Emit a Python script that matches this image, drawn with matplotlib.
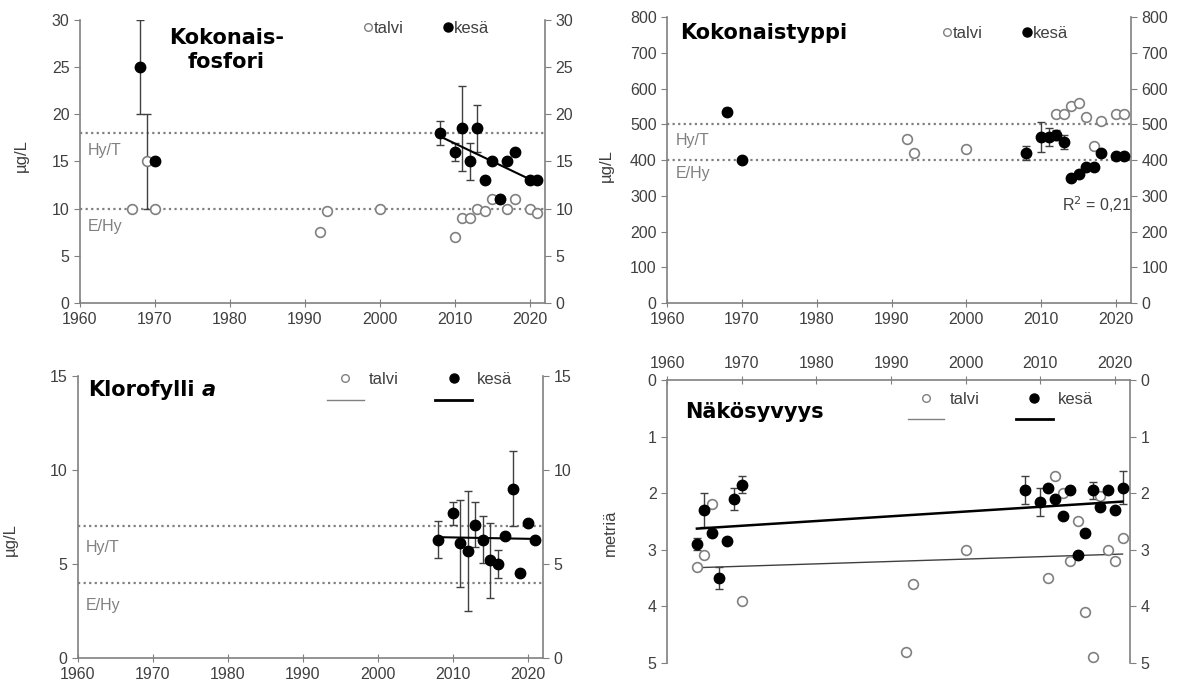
import matplotlib
matplotlib.use("Agg")
import matplotlib.pyplot as plt
from matplotlib.lines import Line2D
import numpy as np

plt.rcParams['font.family'] = ['Liberation Sans', 'DejaVu Sans']

# --- Kokonaisfosfori (µg/L)
p_talvi_year = [1967, 1969, 1970, 1992, 1993, 2000, 2010, 2011, 2012, 2013, 2014, 2015, 2016, 2017, 2018, 2020, 2021]
p_talvi = [10, 15, 10, 7.5, 9.8, 10, 7, 9, 9, 10, 9.7, 11, 11, 10, 11, 10, 9.5]
p_talvi_err = [0, 5, 0, 0, 0, 0, 0, 0, 0, 0, 0, 0, 0, 0, 0, 0, 0]
p_kesa_year = [1968, 1970, 2008, 2010, 2011, 2012, 2013, 2014, 2015, 2016, 2017, 2018, 2020, 2021]
p_kesa = [25, 15, 18, 16, 18.5, 15, 18.5, 13, 15, 11, 15, 16, 13, 13]
p_kesa_err = [5, 0, 1.3, 1, 4.5, 2, 2.5, 0, 0, 0, 0, 0, 0, 0]

# --- Kokonaistyppi (µg/L)
n_talvi_year = [1992, 1993, 2000, 2012, 2013, 2014, 2015, 2016, 2017, 2018, 2020, 2021]
n_talvi = [460, 420, 430, 530, 530, 550, 560, 520, 440, 510, 530, 530]
n_kesa_year = [1968, 1970, 2008, 2010, 2011, 2012, 2013, 2014, 2015, 2016, 2017, 2018, 2020, 2021]
n_kesa = [535, 400, 420, 465, 465, 470, 450, 350, 360, 380, 380, 420, 410, 410]
n_kesa_err = [10, 0, 20, 42, 25, 15, 20, 0, 0, 0, 0, 0, 0, 0]

# --- Klorofylli a (µg/L)
c_kesa_year = [2008, 2010, 2011, 2012, 2013, 2014, 2015, 2016, 2017, 2018, 2019, 2020, 2021]
c_kesa = [6.3, 7.7, 6.1, 5.7, 7.1, 6.3, 5.2, 5.0, 6.5, 9.0, 4.5, 7.2, 6.3]
c_kesa_err = [1.0, 0.6, 2.3, 3.2, 1.2, 1.25, 2.0, 0.75, 0, 2.0, 0, 0, 0]

# --- Näkösyvyys (m)
s_talvi_year = [1964, 1965, 1966, 1970, 1992, 1993, 2000, 2011, 2012, 2013, 2014, 2015, 2016, 2017, 2018, 2019, 2020, 2021]
s_talvi = [3.3, 3.1, 2.2, 3.9, 4.8, 3.6, 3.0, 3.5, 1.7, 2.0, 3.2, 2.5, 4.1, 4.9, 2.05, 3.0, 3.2, 2.8]
s_kesa_year = [1964, 1965, 1966, 1967, 1968, 1969, 1970, 2008, 2010, 2011, 2012, 2013, 2014, 2015, 2016, 2017, 2018, 2019, 2020, 2021]
s_kesa = [2.9, 2.3, 2.7, 3.5, 2.85, 2.1, 1.85, 1.95, 2.15, 1.9, 2.1, 2.4, 1.95, 3.1, 2.7, 1.95, 2.25, 1.95, 2.3, 1.9]
s_kesa_err = [0.1, 0.3, 0, 0.2, 0, 0.2, 0.15, 0.25, 0.25, 0, 0, 0, 0, 0, 0, 0.15, 0, 0, 0, 0.3]

year_ticks = [1960, 1970, 1980, 1990, 2000, 2010, 2020]

GRAY = '#808080'
DARK = '#404040'
MS = 7.5
TFS = 11.5   # tick font size
TITLE = dict(fontsize=15, fontweight='bold', family='DejaVu Sans')


def style(ax, ymax, ystep, top_axis=False):
    ax.set_xlim(1960, 2022)
    ax.set_xticks(year_ticks)
    ax.set_yticks(np.arange(0, ymax + ystep / 2, ystep))
    for s in ['left', 'right', 'top', 'bottom']:
        ax.spines[s].set_color(GRAY)
        ax.spines[s].set_linewidth(1.2)
    if top_axis:
        ax.spines['bottom'].set_visible(False)
        ax.xaxis.tick_top()
    else:
        ax.spines['top'].set_visible(False)
    ax.tick_params(axis='x', direction='inout', length=6, color=GRAY, labelcolor=DARK, labelsize=TFS)
    ax.tick_params(axis='y', direction='out', length=4, color=GRAY, labelcolor=DARK,
                   labelsize=TFS, right=True, labelright=True)


def draw_points(ax, x, y, err, filled):
    x = np.array(x); y = np.array(y); err = np.array(err)
    m = err > 0
    if m.any():
        ax.errorbar(x[m], y[m], yerr=err[m], fmt='none', ecolor=DARK, elinewidth=1,
                    capsize=3, capthick=1, zorder=2)
    if filled:
        ax.plot(x, y, 'o', ms=MS, mfc='black', mec='black', zorder=4)
    else:
        ax.plot(x, y, 'o', ms=MS - 0.5, mfc='white', mec=GRAY, mew=1.2, zorder=3)


def trend(ax, x, y, **kw):
    x = np.array(x, float); y = np.array(y, float)
    k, b = np.polyfit(x, y, 1)
    xx = np.array([x.min(), x.max()])
    ax.plot(xx, k * xx + b, **kw)


def ref_lines(ax, hi, lo, hi_txt_y, lo_txt_y):
    for v in (hi, lo):
        ax.axhline(v, color=GRAY, ls=(0, (1, 1.5)), lw=1.6, zorder=1)
    ax.text(1961.1, hi_txt_y, 'Hy/T', color=GRAY, fontsize=11.5, va='center')
    ax.text(1961.1, lo_txt_y, 'E/Hy', color=GRAY, fontsize=11.5, va='center')


def small_legend(ax, x, y):
    h = [Line2D([], [], ls='none', marker='o', ms=5.5, mfc='white', mec=GRAY),
         Line2D([], [], ls='none', marker='o', ms=6.5, mfc='black', mec='black')]
    ax.legend(h, ['talvi', 'kesä'], ncol=2, loc='center', bbox_to_anchor=(x, y),
              frameon=False, handlelength=0.5, handletextpad=0.1, columnspacing=2.4,
              fontsize=12, labelcolor=DARK)


def line_legend(ax, x, y):
    h = [Line2D([], [], ls='none', marker='o', ms=5.5, mfc='white', mec=GRAY),
         Line2D([], [], color=GRAY, lw=1),
         Line2D([], [], ls='none', marker='o', ms=6.5, mfc='black', mec='black'),
         Line2D([], [], color='black', lw=2)]
    ax.legend(h, ['talvi', ' ', 'kesä', ' '], ncol=2, loc='center', bbox_to_anchor=(x, y),
              frameon=False, handlelength=2.2, handletextpad=0.3, columnspacing=2.2,
              labelspacing=0.4, fontsize=12, labelcolor=DARK)


fig = plt.figure(figsize=(11.81, 6.94), dpi=100)

# Panel 1: Kokonaisfosfori
ax1 = fig.add_axes([0.0677, 0.5634, 0.3937, 0.4078])
style(ax1, 30, 5)
ax1.set_ylim(0, 30)
ref_lines(ax1, 18, 10, 16.2, 8.1)
draw_points(ax1, p_talvi_year, p_talvi, p_talvi_err, False)
draw_points(ax1, p_kesa_year, p_kesa, p_kesa_err, True)
trend(ax1, p_kesa_year[2:], p_kesa[2:], color='black', lw=1.5, zorder=5)
ax1.text(0.315, 0.894, 'Kokonais-\nfosfori', transform=ax1.transAxes, ha='center', va='center',
         linespacing=1.2, **TITLE)
small_legend(ax1, 0.745, 0.97)
ax1.set_ylabel('µg/L', fontsize=12, color=DARK)
ax1.yaxis.set_label_coords(-0.11, 0.52)

# Panel 2: Kokonaistyppi
ax2 = fig.add_axes([0.5648, 0.5634, 0.3929, 0.412])
style(ax2, 800, 100)
ax2.set_ylim(0, 800)
ref_lines(ax2, 500, 400, 456, 363)
draw_points(ax2, n_talvi_year, n_talvi, [0] * len(n_talvi), False)
draw_points(ax2, n_kesa_year, n_kesa, n_kesa_err, True)
ax2.text(2017.5, 275, 'R$^2$ = 0,21', fontsize=11.5, color=DARK, ha='center', va='center')
ax2.text(0.028, 0.944, 'Kokonaistyppi', transform=ax2.transAxes, ha='left', va='center', **TITLE)
small_legend(ax2, 0.73, 0.944)
ax2.set_ylabel('µg/L', fontsize=12, color=DARK)
ax2.yaxis.set_label_coords(-0.115, 0.48)

# Panel 3: Klorofylli a
ax3 = fig.add_axes([0.066, 0.0519, 0.3937, 0.4063])
style(ax3, 15, 5)
ax3.set_ylim(0, 15)
ref_lines(ax3, 7, 4, 5.9, 2.8)
draw_points(ax3, c_kesa_year, c_kesa, c_kesa_err, True)
trend(ax3, c_kesa_year, c_kesa, color='black', lw=1.5, zorder=5)
t3 = ax3.text(0.0215, 0.95, 'Klorofylli', transform=ax3.transAxes, ha='left', va='center', **TITLE)
ax3.annotate('a', xy=(1, 0.5), xycoords=t3, xytext=(5, 0), textcoords='offset points',
             ha='left', va='center', style='italic', **TITLE)
line_legend(ax3, 0.735, 0.95)
ax3.set_ylabel('µg/L', fontsize=12, color=DARK)
ax3.yaxis.set_label_coords(-0.13, 0.42)

# Panel 4: Näkösyvyys
ax4 = fig.add_axes([0.5648, 0.0447, 0.392, 0.4078])
style(ax4, 5, 1, top_axis=True)
ax4.set_ylim(5, 0)
draw_points(ax4, s_talvi_year, s_talvi, [0] * len(s_talvi), False)
draw_points(ax4, s_kesa_year, s_kesa, s_kesa_err, True)
trend(ax4, s_talvi_year, s_talvi, color=DARK, lw=1, zorder=2.5)
trend(ax4, s_kesa_year, s_kesa, color='black', lw=1.8, zorder=5)
ax4.text(0.039, 0.888, 'Näkösyvyys', transform=ax4.transAxes, ha='left', va='center', **TITLE)
line_legend(ax4, 0.72, 0.894)
ax4.set_ylabel('metriä', fontsize=12, color=DARK)
ax4.yaxis.set_label_coords(-0.105, 0.46)

fig.savefig('out.png', dpi=100)
